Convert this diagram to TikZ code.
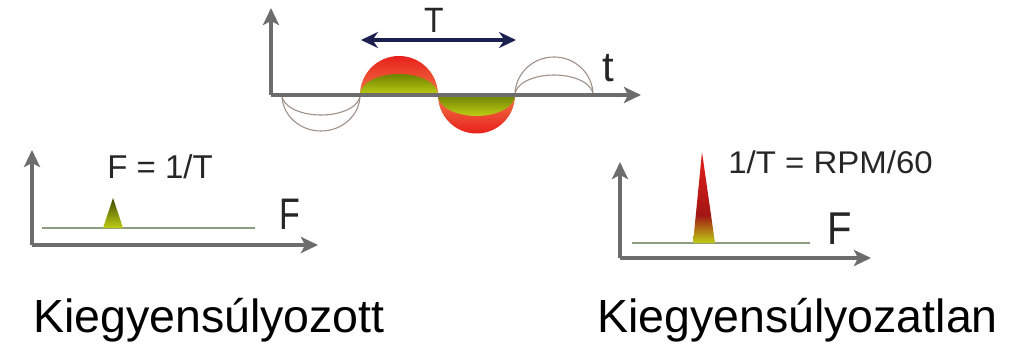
\documentclass[tikz,border=0pt]{standalone}
\usepackage{fontspec}
\setmainfont{Liberation Sans}
\usetikzlibrary{arrows.meta}
\definecolor{axisgray}{RGB}{108,108,108}
\definecolor{navy}{RGB}{28,32,78}
\definecolor{thinbrown}{RGB}{160,145,135}
\definecolor{baseg}{RGB}{140,155,130}
\definecolor{rred}{RGB}{232,32,28}
\definecolor{rorange}{RGB}{240,120,70}
\definecolor{ygreen}{RGB}{190,205,20}
\definecolor{dgreen}{RGB}{110,130,0}
\begin{document}
\begin{tikzpicture}[x=1pt,y=-1pt,
  axis/.style={draw=axisgray,line width=4pt,-{Stealth[length=17pt,width=16pt,inset=4pt]}},
  base/.style={draw=baseg,line width=1.6pt},
  thin/.style={draw=thinbrown,line width=1.1pt},
  lbl/.style={inner sep=0pt,text=black!85}]
\useasboundingbox (0,0) rectangle (1009,343);
% ---------- top time graph ----------
\coordinate (o1) at (271,95);
\coordinate (y1) at (271,8);
\coordinate (x1) at (641,95);
% filled humps
\shade[top color=rred, bottom color=rorange] (360,95) arc[start angle=180,end angle=360,radius=39] -- cycle;
\shade[top color=dgreen, bottom color=ygreen] (360,95) arc[start angle=180,end angle=360,x radius=39,y radius=21] -- cycle;
\shade[bottom color=rred, top color=rorange] (438,95) arc[start angle=180,end angle=0,radius=38.5] -- cycle;
\shade[top color=dgreen, bottom color=ygreen] (438,95) arc[start angle=180,end angle=0,x radius=38.5,y radius=21] -- cycle;
% thin outline humps
\draw[thin] (282,95) arc[start angle=180,end angle=0,x radius=39,y radius=36];
\draw[thin] (282,95) arc[start angle=180,end angle=0,x radius=39,y radius=20];
\draw[thin] (515,95) arc[start angle=180,end angle=360,x radius=39,y radius=38];
\draw[thin] (515,95) arc[start angle=180,end angle=360,x radius=39,y radius=20];
\draw[axis] (o1) -- (y1);
\draw[axis] (o1) -- (x1);
\coordinate (ta) at (361,40);
\coordinate (tb) at (516,40);
\draw[navy,line width=4pt,{Stealth[length=17pt,width=16pt]}-{Stealth[length=17pt,width=16pt]}] (ta) -- (tb);
\node[lbl,font=\fontsize{32}{32}\selectfont,yscale=1.1] (T) at (434,20) {T};
\node[lbl,font=\fontsize{42}{42}\selectfont] (t) at (608,68) {t};
% ---------- left spectrum ----------
\coordinate (o2) at (32,245);
\coordinate (y2) at (32,150);
\coordinate (x2) at (318,245);
\coordinate (b2a) at (42,228);
\coordinate (b2b) at (255,228);
\draw[base] (b2a) -- (b2b);
\shade[top color=black!45!dgreen, bottom color=ygreen] (103,228) -- (113,198) -- (123,228) -- cycle;
\draw[axis] (o2) -- (y2);
\draw[axis] (o2) -- (x2);
\node[lbl,font=\fontsize{33}{33}\selectfont] (f1) at (160,166.5) {F = 1/T};
\node[lbl,font=\fontsize{34}{34}\selectfont,yscale=1.3] (F1) at (290,214) {F};
% ---------- right spectrum ----------
\coordinate (o3) at (620,258);
\coordinate (y3) at (620,162);
\coordinate (x3) at (871,258);
\coordinate (b3a) at (632,243);
\coordinate (b3b) at (810,243);
\draw[base] (b3a) -- (b3b);
\shade[top color=rred, bottom color=rred!70!black] (695.8,215) -- (702,152) -- (711,215) -- cycle;
\shade[top color=rred!70!black, middle color=dgreen!80!black, bottom color=ygreen] (693,243) -- (695.8,215) -- (711,215) -- (715,243) -- cycle;
\draw[axis] (o3) -- (y3);
\draw[axis] (o3) -- (x3);
\node[lbl,font=\fontsize{33}{33}\selectfont,yscale=0.95] (f2) at (830.5,162) {1/T = RPM/60};
\node[lbl,font=\fontsize{40}{40}\selectfont,yscale=1.15] (F2) at (840,228.5) {F};
% ---------- captions ----------
\node[lbl,font=\fontsize{46.5}{46}\selectfont,anchor=base west,text=black] (c1) at (33,332) {Kiegyensúlyozott};
\node[lbl,font=\fontsize{46.5}{46}\selectfont,anchor=base west,text=black] (c2) at (597,332) {Kiegyensúlyozatlan};
\end{tikzpicture}
\end{document}
